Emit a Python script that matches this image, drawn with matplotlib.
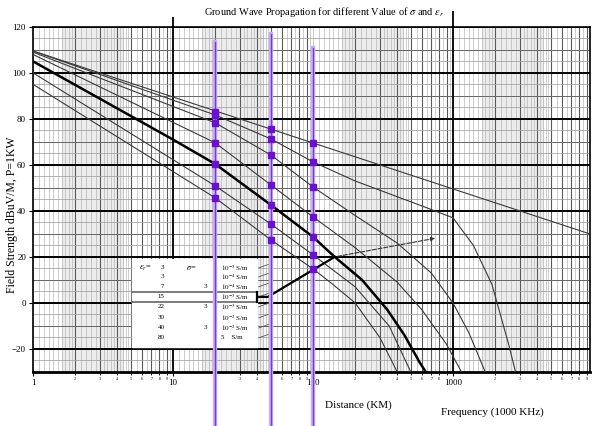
import numpy as np
import matplotlib.pyplot as plt

plt.rcParams['font.family'] = ['Liberation Serif', 'DejaVu Serif']
plt.rcParams['mathtext.fontset'] = 'stix'

# curves: distance (km) / field strength (dBuV/m)
inv_d = [1, 9500]
inv_v = [109.5, 30]
b_d = [1, 20, 50, 100, 200, 550, 1000, 1400, 1900, 2500, 2800]
b_v = [109.5, 81.7, 71.3, 61.3, 53, 43, 37, 25, 8, -18, -30]
c_d = [1, 20, 50, 100, 200, 400, 700, 1000, 1300, 1700]
c_v = [109, 78.3, 64.3, 50.4, 38, 26, 13, 0, -13, -30]
d_d = [1, 20, 50, 100, 200, 400, 600, 900, 1150]
d_v = [108, 69.6, 51.3, 37.4, 24, 9, -3, -18, -30]
f_d = [1, 20, 50, 100, 200, 350, 500]
f_v = [100, 50.9, 34.3, 20.9, 7, -10, -30]
g_d = [1, 20, 50, 100, 139, 200, 300, 400]
g_v = [95, 45.7, 27.4, 14.8, 8, 0, -15, -30]
thick_d = [1, 10, 20, 50, 100, 143, 224, 340, 450, 580, 640]
thick_v = [105, 71, 60.4, 42.6, 28.7, 20, 10, -3, -14, -26, -30]

# purple distance markers
mark_d = [20, 50, 100]
mark_top = [113.5, 117, 111]
sq_20 = [83, 81.7, 78.3, 69.6, 60.4, 50.9, 45.7]
sq_50 = [75.7, 71.3, 64.3, 51.3, 42.6, 34.3, 27.4]
sq_100 = [69.6, 61.3, 50.4, 37.4, 28.7, 20.9, 14.8]

# legend rows
eps_vals = ['3', '3', '7', '15', '22', '30', '40', '80']
sig_mult = ['', '', '3', '', '3', '', '3', '']
sig_vals = [r'$10^{-5}$ S/m', r'$10^{-4}$ S/m', r'$10^{-4}$ S/m', r'$10^{-3}$ S/m',
            r'$10^{-3}$ S/m', r'$10^{-2}$ S/m', r'$10^{-2}$ S/m', '5    S/m']
row_y = [15.2, 11.3, 7, 2.6, -1.7, -6.5, -10.9, -15.2]

fig = plt.figure(figsize=(6, 4.26), dpi=100)
ax = fig.add_axes([0.055, 0.127, 0.928, 0.81])
ax.set_xscale('log')
ax.set_xlim(1, 9500)
ax.set_ylim(-30, 120)

# graph paper
for b in [1, 10, 100, 1000]:
    ax.axvspan(b * 1.6, b * 4.5, color='#ececec', lw=0, zorder=0)
    fine = list(np.arange(1, 2, 0.1)) + list(np.arange(2, 5, 0.2)) + list(np.arange(5, 10, 0.5))
    for m in fine:
        ax.axvline(b * m, color='#a8a8a8', lw=0.4, zorder=1)
    for k in range(2, 10):
        ax.axvline(b * k, color='#5a5a5a', lw=0.8, zorder=1)
for y in range(-30, 121, 5):
    ax.axhline(y, color='#9a9a9a', lw=0.5, zorder=1)
for y in range(-30, 121, 10):
    ax.axhline(y, color='#666666', lw=0.7, zorder=1)
for y in range(-20, 121, 20):
    ax.axhline(y, color='black', lw=1.4, zorder=2)
for x, top in [(10, 124), (1000, 126.5)]:
    ax.plot([x, x], [-30, top], color='black', lw=1.3, zorder=2, clip_on=False)

# legend panel
ax.fill_between([5.1, 40], -19, 19, color='white', zorder=3)
ax.plot([5.1, 40], [4.8, 4.8], color='#666666', lw=1.2, zorder=4)
ax.plot([5.1, 40], [0.3, 0.3], color='#666666', lw=1.2, zorder=4)
ax.text(5.7, row_y[0], r'$\epsilon_r$=', fontsize=6, va='center', zorder=6)
ax.text(12.4, row_y[0], r'$\sigma$=', fontsize=6, va='center', zorder=6)
for y, e, m, s in zip(row_y, eps_vals, sig_mult, sig_vals):
    ax.text(8.7, y, e, fontsize=5, va='center', ha='right', zorder=6)
    ax.text(17.5, y, m, fontsize=5, va='center', ha='right', zorder=6)
    ax.text(22.2, y, s, fontsize=5, va='center', zorder=6)
    ax.plot([41, 48], [y, y + 1.5], color='#555555', lw=0.6, zorder=6)

# curves
for xd, yv in [(inv_d, inv_v), (b_d, b_v), (c_d, c_v), (d_d, d_v), (f_d, f_v), (g_d, g_v)]:
    ax.plot(xd, yv, color='#3a3a3a', lw=0.8, zorder=5)
ax.plot(thick_d, thick_v, color='black', lw=1.8, zorder=6)

# construction lines
ax.plot([40, 40], [0.3, 4.8], color='black', lw=1.6, zorder=7)
ax.plot([40, 47.6, 143], [2.6, 2.6, 20], color='black', lw=1.6, zorder=7)
ax.annotate('', xy=(780, 28.3), xytext=(143, 20),
            arrowprops=dict(arrowstyle='-|>', color='#333333', lw=0.8, ls='--',
                            mutation_scale=6), zorder=7)

# purple markers
for x, top in zip(mark_d, mark_top):
    ax.plot([x, x], [-60, top], color='#c8b2ee', lw=3.2, zorder=8, clip_on=False)
    ax.plot([x, x], [-60, top], color='#7a38d8', lw=1.0, zorder=8, clip_on=False)
for x, vals in zip(mark_d, [sq_20, sq_50, sq_100]):
    ax.plot([x] * len(vals), vals, 's', color='#6a10d0', ms=4, zorder=9)

# ticks
minor_pos = [b * k for b in [1, 10, 100, 1000] for k in range(2, 10)]
minor_lab = [str(k) if not (b == 100 and k == 9) else '' for b in [1, 10, 100, 1000] for k in range(2, 10)]
ax.set_yticks(range(-20, 121, 20))
ax.set_xticks([1, 10, 100, 1000])
ax.set_xticklabels(['1', '10', '100', '1000'])
ax.xaxis.set_minor_locator(plt.FixedLocator(minor_pos))
ax.xaxis.set_minor_formatter(plt.FixedFormatter(minor_lab))
ax.tick_params(axis='both', which='major', labelsize=6.5, length=3, pad=2)
ax.tick_params(axis='x', which='minor', labelsize=3, length=2, pad=2)
for s in ax.spines.values():
    s.set_linewidth(1.2)
ax.spines['bottom'].set_linewidth(2)

fig.text(0.54, 0.972, r'Ground Wave Propagation for different Value of $\sigma$ and $\epsilon_r$',
         fontsize=7.5, ha='center', va='center')
fig.text(0.02, 0.495, 'Field Strength dBuV/M, P=1KW', rotation=90, fontsize=8.5,
         ha='center', va='center')
fig.text(0.598, 0.049, 'Distance (KM)', fontsize=8, ha='center', va='center')
fig.text(0.82, 0.033, 'Frequency (1000 KHz)', fontsize=8, ha='center', va='center')

fig.savefig('out.png', dpi=100)
